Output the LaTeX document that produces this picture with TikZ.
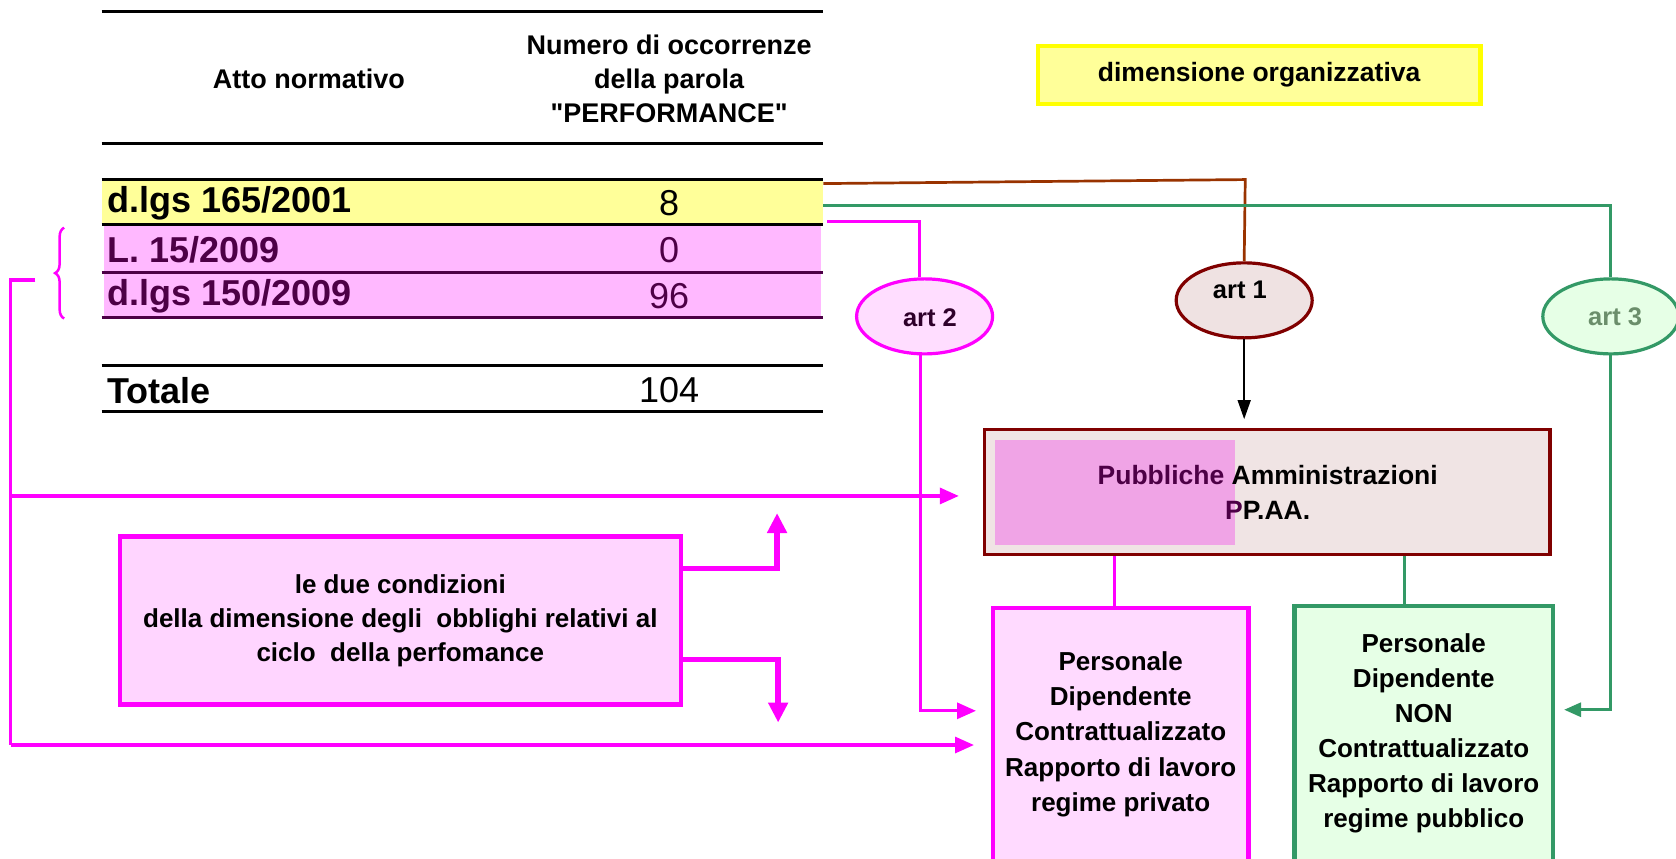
\documentclass[tikz,border=0pt]{standalone}
\usepackage{fontspec}
\setmainfont{Liberation Sans}[Ligatures=TeXOff]
\usetikzlibrary{arrows.meta,decorations.pathreplacing,shapes.geometric}
\definecolor{mag}{HTML}{FF00FF}
\definecolor{tyellow}{HTML}{FFFF99}
\definecolor{byellow}{HTML}{FFFF00}
\definecolor{tpink}{HTML}{FFB8FF}
\definecolor{tpurple}{HTML}{4D0046}
\definecolor{brownl}{HTML}{993300}
\definecolor{greenl}{HTML}{339966}
\definecolor{darkred}{HTML}{800000}
\definecolor{a1fill}{HTML}{EFE2E2}
\definecolor{a2fill}{HTML}{FFDDFF}
\definecolor{a3fill}{HTML}{E6FFE6}
\definecolor{a3text}{HTML}{6B8E6B}
\definecolor{pafill}{HTML}{F0E4E4}
\definecolor{painner}{HTML}{F0A4E6}
\definecolor{condfill}{HTML}{FFD5FF}
\definecolor{persfill}{HTML}{FFDAFF}
\newcommand\fHead{\fontsize{27}{34.2}\selectfont\bfseries}
\newcommand\fMid{\fontsize{26.5}{35}\selectfont\bfseries}
\newcommand\fCond{\fontsize{26}{34.2}\selectfont\bfseries}
\newcommand\fPers{\fontsize{26}{35.1}\selectfont\bfseries}
\newcommand\fRow{\fontsize{36}{40}\selectfont\bfseries}
\newcommand\fNum{\fontsize{36}{40}\selectfont}
\newcommand\fArt{\fontsize{25.5}{28}\selectfont\bfseries}
\tikzset{
  rule/.style={line width=3.2pt},
  prule/.style={line width=3.2pt, draw=tpurple},
  txt/.style={inner sep=0pt, align=center},
  magline/.style={draw=mag, line width=3.2pt},
  magarrow/.style={magline, -{Triangle[length=19pt,width=16pt]}},
  thickmag/.style={draw=mag, line width=5.5pt, -{Triangle[length=20pt,width=19pt]}},
  artbox/.style={ellipse, line width=3.2pt, minimum width=136pt, minimum height=75pt, inner sep=0pt},
}
\begin{document}
\begin{tikzpicture}[x=1.0689pt,y=-1.0689pt]
\useasboundingbox (0,0) rectangle (1568,803.6);
\clip (0,0) rectangle (1568,803.6);
\fill[white] (0,0) rectangle (1568,803.6);

% ---------- table ----------
\node[fill=tyellow, minimum width=721.5pt, minimum height=44.9pt, inner sep=0pt, anchor=north west] (r165) at (95,168) {};
\node[fill=tpink, minimum width=717.2pt, minimum height=91.9pt, inner sep=0pt, anchor=north west] (rpink) at (97,211) {};
\draw[rule] (95,11) -- (770,11);
\draw[rule] (95,134) -- (770,134);
\draw[rule] (95,168) -- (770,168);
\draw[rule] (95,210) -- (770,210);
\draw[prule] (95,255) -- (770,255);
\draw[prule] (95,297) -- (770,297);
\draw[rule] (95,342) -- (770,342);
\draw[rule] (95,385) -- (770,385);

\node[txt, font=\fHead] (hatto) at (289,74) {Atto normativo};
\node[txt, font=\fHead] (hnum) at (626,74) {Numero di occorrenze\\della parola\\"PERFORMANCE"};

\node[txt, anchor=west, font=\fRow] (t1) at (100,190) {d.lgs 165/2001};
\node[txt, font=\fNum] (n1) at (626,190) {8};
\node[txt, anchor=west, font=\fRow, text=tpurple] (t2) at (100,234) {L. 15/2009};
\node[txt, font=\fNum, text=tpurple] (n2) at (626,234) {0};
\node[txt, anchor=west, font=\fRow, text=tpurple] (t3) at (100,277) {d.lgs 150/2009};
\node[txt, font=\fNum, text=tpurple] (n3) at (626,277) {96};
\node[txt, anchor=west, font=\fRow] (t4) at (100,365) {Totale};
\node[txt, font=\fNum] (n4) at (626,365) {104};

% brace
\draw[mag, line width=2.5pt, decorate, decoration={brace, amplitude=9pt}] (60,298) -- (60,213);

% ---------- dimensione organizzativa ----------
\node[draw=byellow, fill=tyellow, line width=4.3pt, minimum width=442.5pt, minimum height=57.7pt, font=\fMid] (dim) at (1178,70) {dimensione organizzativa};

% ---------- art ellipses ----------
\node[artbox, draw=mag, fill=a2fill] (art2) at (865,296) {};
\node[txt, font=\fArt, text=tpurple!60!black] (art2t) at (870,297) {art 2};
\node[artbox, draw=darkred, fill=a1fill] (art1) at (1164,281) {};
\node[txt, font=\fArt] (art1t) at (1160,271) {art 1};
\node[artbox, draw=greenl, fill=a3fill] (art3) at (1507,296) {};
\node[txt, font=\fArt, text=a3text] (art3t) at (1511,296) {art 3};

% ---------- PA box ----------
\node[draw=darkred, fill=pafill, line width=3.2pt, minimum width=565.5pt, minimum height=125pt, inner sep=0pt] (PA) at (1185.5,460.5) {};
\fill[painner] (931,412) rectangle (1155,510);
\node[txt, font=\fMid, text=black] (PAt) at (1186,461) {{\color{tpurple}Pubbliche} Amministrazioni\\{\color{tpurple}P}P.AA.};

% ---------- condition box ----------
\node[draw=mag, fill=condfill, line width=4.3pt, minimum width=561.2pt, minimum height=167.8pt, inner sep=0pt, font=\fCond, align=center] (cond) at (374.5,580.5) {le due condizioni\\della dimensione degli\ \ obblighi relativi al\\ciclo\ \ della perfomance};

% ---------- personale boxes ----------
\node[draw=mag, fill=persfill, line width=4.3pt, minimum width=255.5pt, minimum height=350pt, inner sep=0pt, anchor=north] (pers) at (1048.5,567) {};
\node[txt, font=\fPers] (perst) at (1048.5,687) {Personale\\Dipendente\\Contrattualizzato\\Rapporto di lavoro\\regime privato};
\node[draw=greenl, fill=a3fill, line width=4.3pt, minimum width=258.7pt, minimum height=350pt, inner sep=0pt, anchor=north] (pub) at (1332,565) {};
\node[txt, font=\fPers] (pubt) at (1332,686) {Personale\\Dipendente\\NON\\Contrattualizzato\\Rapporto di lavoro\\regime pubblico};

% ---------- connectors ----------
\coordinate (bA) at (1165,168);
\draw[brownl, line width=2.7pt] ([yshift=-4pt]r165.north east) -- (bA) -- (art1.north);
\draw[greenl, line width=3.2pt] ([yshift=-3pt]r165.east) -| (art3.north);
\draw[magline] ([xshift=4pt,yshift=3pt]r165.south east) -| ([xshift=-5pt]art2.north);
\draw[line width=1.6pt, -{Triangle[length=19pt,width=13pt]}, shorten >=9pt] (art1.south) -- (art1.south |- PA.north);

\coordinate (busTop) at (10,262);
\coordinate (braceEnd) at (33,262);
\coordinate (busA) at (10,464);
\coordinate (busB) at (10,697);
\coordinate (pB) at (929,697);
\coordinate (pA) at (929,665);
\draw[magline] (braceEnd) -- (busTop) -- (busB);
\draw[magarrow, shorten >=24pt] (busA) -- (busA -| PA.west);
\draw[magarrow, shorten >=19pt] (busB) -- (pB);
\draw[magarrow, shorten >=17pt] ([xshift=-4pt]art2.south) |- (pA);

\coordinate (c1) at (727,532);
\coordinate (c2) at (728,617);
\draw[thickmag] (c1 -| cond.east) -- (c1) -- ++(0,-52);
\draw[thickmag] (c2 -| cond.east) -- (c2) -- ++(0,59);

\coordinate (m1) at (1043,0);
\coordinate (g1) at (1314,0);
\draw[magline] (PA.south -| m1) -- (pers.north -| m1);
\draw[greenl, line width=3.2pt] (PA.south -| g1) -- (pub.north -| g1);

\coordinate (gA) at (1453,664);
\draw[greenl, line width=3.2pt, -{Triangle[length=17pt,width=14pt]}, shorten >=11pt] (art3.south) |- (gA);
\end{tikzpicture}
\end{document}
